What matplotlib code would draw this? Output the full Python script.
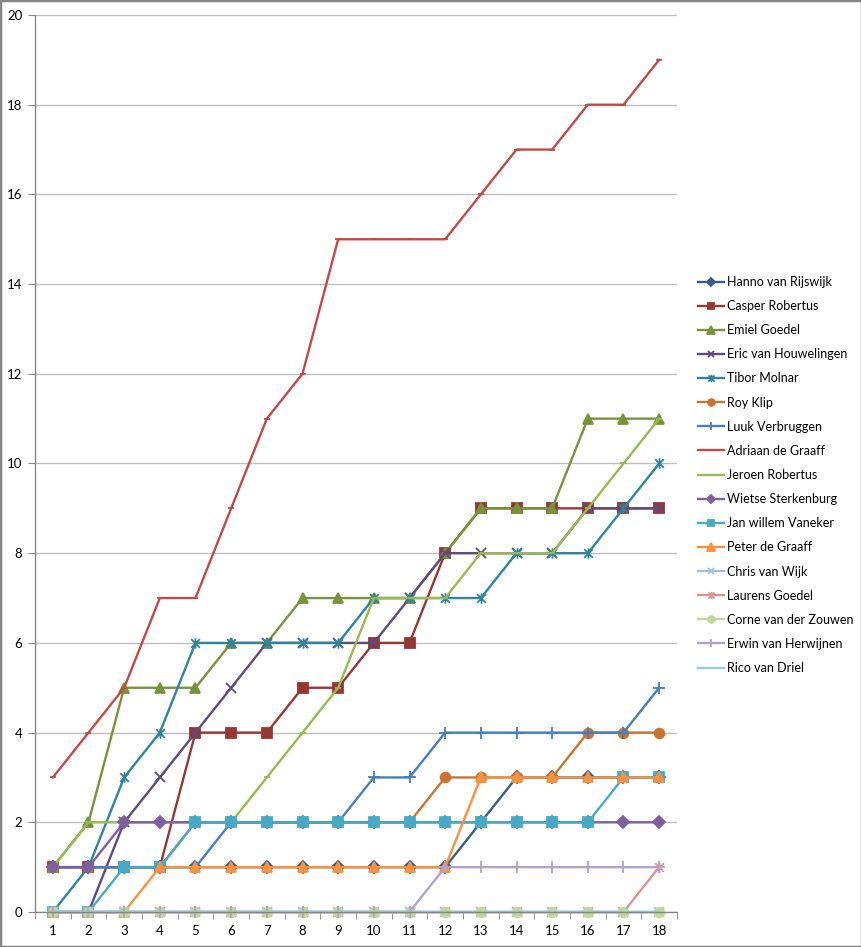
import numpy as np
import matplotlib.pyplot as plt
from matplotlib.path import Path
from matplotlib.patches import Rectangle

plt.rcParams['font.family'] = ['Lato', 'DejaVu Sans']

# data
rounds = list(range(1, 19))
names = ['Hanno van Rijswijk', 'Casper Robertus', 'Emiel Goedel', 'Eric van Houwelingen',
         'Tibor Molnar', 'Roy Klip', 'Luuk Verbruggen', 'Adriaan de Graaff',
         'Jeroen Robertus', 'Wietse Sterkenburg', 'Jan willem Vaneker', 'Peter de Graaff',
         'Chris van Wijk', 'Laurens Goedel', 'Corne van der Zouwen', 'Erwin van Herwijnen',
         'Rico van Driel']

hanno   = [1, 1, 1, 1, 1, 1, 1, 1, 1, 1, 1, 1, 2, 3, 3, 3, 3, 3]
casper  = [1, 1, 1, 1, 4, 4, 4, 5, 5, 6, 6, 8, 9, 9, 9, 9, 9, 9]
emiel   = [1, 2, 5, 5, 5, 6, 6, 7, 7, 7, 7, 8, 9, 9, 9, 11, 11, 11]
eric    = [0, 0, 2, 3, 4, 5, 6, 6, 6, 6, 7, 8, 8, 8, 8, 9, 9, 9]
tibor   = [0, 1, 3, 4, 6, 6, 6, 6, 6, 7, 7, 7, 7, 8, 8, 8, 9, 10]
roy     = [1, 1, 1, 1, 2, 2, 2, 2, 2, 2, 2, 3, 3, 3, 3, 4, 4, 4]
luuk    = [1, 1, 1, 1, 1, 2, 2, 2, 2, 3, 3, 4, 4, 4, 4, 4, 4, 5]
adriaan = [3, 4, 5, 7, 7, 9, 11, 12, 15, 15, 15, 15, 16, 17, 17, 18, 18, 19]
jeroen  = [1, 2, 2, 2, 2, 2, 3, 4, 5, 7, 7, 7, 8, 8, 8, 9, 10, 11]
wietse  = [1, 1, 2, 2, 2, 2, 2, 2, 2, 2, 2, 2, 2, 2, 2, 2, 2, 2]
janw    = [0, 0, 1, 1, 2, 2, 2, 2, 2, 2, 2, 2, 2, 2, 2, 2, 3, 3]
peter   = [0, 0, 0, 1, 1, 1, 1, 1, 1, 1, 1, 1, 3, 3, 3, 3, 3, 3]
chris   = [0] * 18
laurens = [0, 0, 0, 0, 0, 0, 0, 0, 0, 0, 0, 0, 0, 0, 0, 0, 0, 1]
corne   = [0] * 18
erwin   = [0, 0, 0, 0, 0, 0, 0, 0, 0, 0, 0, 1, 1, 1, 1, 1, 1, 1]
rico    = [0] * 18

series = [hanno, casper, emiel, eric, tibor, roy, luuk, adriaan, jeroen,
          wietse, janw, peter, chris, laurens, corne, erwin, rico]

colors = ['#385D8A', '#953735', '#77933C', '#604A7B', '#31849B', '#C87533',
          '#4A7EBB', '#BE4B48', '#98B954', '#7D60A0', '#46AAC5', '#F69240',
          '#A7BFDE', '#D99694', '#C3D69B', '#B3A2C7', '#93CDDD']

# excel style star: x with a vertical bar
star = Path([(-1, -1), (1, 1), (-1, 1), (1, -1), (0, -1.2), (0, 1.2)],
            [Path.MOVETO, Path.LINETO, Path.MOVETO, Path.LINETO, Path.MOVETO, Path.LINETO])

markers = ['D', 's', '^', 'x', star, 'o', '+', '_', '_', 'D', 's', '^',
           'x', star, 'o', '+', 'None']
msizes = [6, 7, 7.5, 7, 7.5, 7, 8, 5, 5, 6, 7, 7.5, 7, 7.5, 7, 8, 0]

W, H = 862, 947
fig = plt.figure(figsize=(W / 100, H / 100), dpi=100)
ax = fig.add_axes([35 / W, (H - 912) / H, (677 - 35) / W, (912 - 15) / H])

for vals, name, c, m, ms in zip(series, names, colors, markers, msizes):
    ax.plot(rounds, vals, color=c, lw=1.7, marker=m, markersize=ms,
            markerfacecolor=c, markeredgecolor=c, markeredgewidth=1.3,
            label=name, solid_joinstyle='round', clip_on=False)

ax.set_xlim(0.5, 18.5)
ax.set_ylim(0, 20)
ax.set_yticks(range(0, 21, 2))
ax.set_xticks(rounds)
ax.set_xticks(np.arange(0.5, 19, 1), minor=True)
ax.tick_params(axis='x', which='major', length=0, pad=9, labelsize=9.5)
ax.tick_params(axis='x', which='minor', length=5, color='#868686', direction='out')
ax.tick_params(axis='y', length=5, color='#868686', pad=4, labelsize=9.5)
ax.grid(axis='y', color='#BEBEBE', lw=1)
ax.set_axisbelow(True)
for s in ['top', 'right']:
    ax.spines[s].set_visible(False)
for s in ['left', 'bottom']:
    ax.spines[s].set_color('#868686')
    ax.spines[s].set_linewidth(1)

fig.legend(loc='upper left', bbox_to_anchor=(693 / W, 1 - 271 / H), frameon=False,
           fontsize=9, labelspacing=0.97, handlelength=2.1, handletextpad=0.2,
           borderaxespad=0, markerscale=0.7)

fig.patches.append(Rectangle((0, 0), 1, 1, transform=fig.transFigure, fill=False,
                             edgecolor='#868686', lw=2.5))

fig.savefig('out.png', dpi=100)
